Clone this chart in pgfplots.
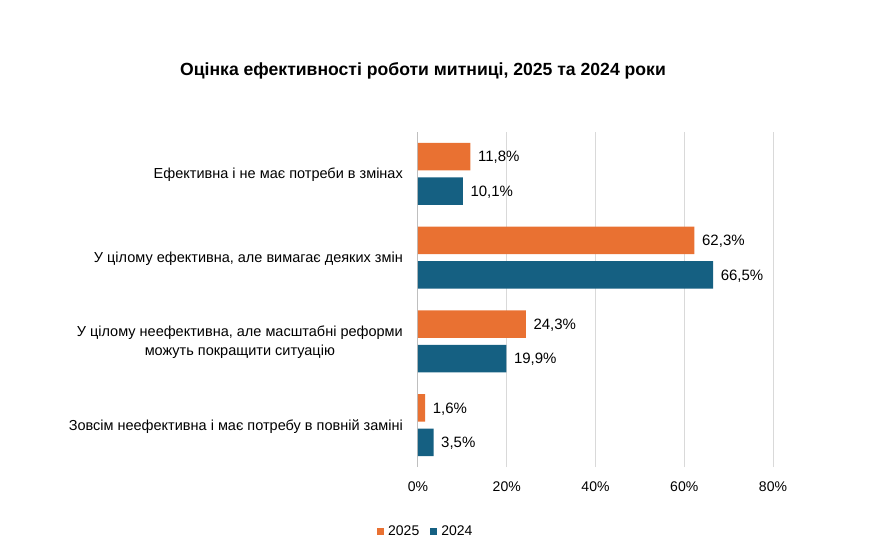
\documentclass[border=0pt]{standalone}
\usepackage{pgfplots}
\pgfplotsset{compat=1.18}
\usepackage{fontspec}
\setmainfont{Liberation Sans}
\definecolor{c25}{HTML}{E97132}
\definecolor{c24}{HTML}{156082}
\definecolor{gridc}{HTML}{D9D9D9}
\definecolor{axc}{HTML}{BFBFBF}
\begin{document}
\begin{tikzpicture}
\path[use as bounding box] (0pt,0pt) rectangle (873pt,558pt);
\node[font=\fontsize{17.6}{20}\selectfont\bfseries] at (423pt,487pt) {Оцінка ефективності роботи митниці, 2025 та 2024 роки};
\begin{axis}[
  at={(418pt,91pt)}, anchor=south west,
  scale only axis, width=355pt, height=335pt,
  xmin=0, xmax=80, ymin=-0.5, ymax=3.5,
  xbar, bar width=27.5pt,
  axis line style={draw=none},
  /pgf/number format/assume math mode=true,
  xtick={20,40,60,80},
  xticklabels={20\%,40\%,60\%,80\%},
  extra x ticks={0}, extra x tick labels={0\%},
  extra x tick style={grid style={color=axc, line width=1pt}},
  xmajorgrids, grid style={color=gridc, line width=0.8pt},
  major tick length=0pt,
  ytick={0,1,2,3},
  yticklabels={Зовсім неефективна і має потребу в повній заміні,
               {У цілому неефективна, але масштабні реформи\\можуть покращити ситуацію},
               {У цілому ефективна, але вимагає деяких змін},
               Ефективна і не має потреби в змінах},
  yticklabel style={font=\fontsize{14.5}{19.5}\selectfont, align=center, anchor=east, inner sep=0pt, xshift=-15pt, yshift=-1pt},
  xticklabel style={font=\fontsize{14}{16}\selectfont, anchor=north, inner sep=0pt, yshift=-15pt},
  nodes near coords={\pgfmathprintnumber[fixed,fixed zerofill,precision=1,use comma,assume math mode=true]{\pgfplotspointmeta}\%},
  nodes near coords style={font=\fontsize{15}{17}\selectfont, anchor=west, inner sep=0pt, xshift=7.5pt, yshift=-1pt, text=black},
  point meta=explicit,
  legend columns=2,
  legend style={at={(0.022,-0.192)}, anchor=center, draw=none, font=\fontsize{14}{16}\selectfont,
    /tikz/every odd column/.append style={column sep=2pt},
    /tikz/every even column/.append style={column sep=9pt}},
  legend image code/.code={\fill[#1] (0pt,-3.5pt) rectangle (7pt,3.5pt);},
]
\addplot[fill=c25, draw=none, bar shift=17.25pt] coordinates {(11.8,3) [11.8] (62.3,2) [62.3] (24.3,1) [24.3] (1.6,0) [1.6]};
\addplot[fill=c24, draw=none, bar shift=-17.25pt] coordinates {(10.1,3) [10.1] (66.5,2) [66.5] (19.9,1) [19.9] (3.5,0) [3.5]};
\legend{2025,2024}
\end{axis}
\end{tikzpicture}
\end{document}
